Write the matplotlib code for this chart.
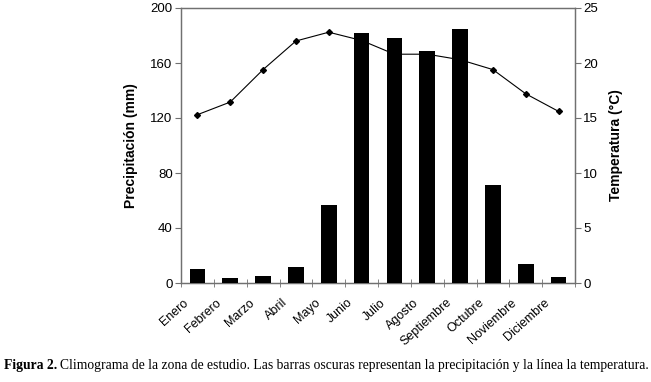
import matplotlib
matplotlib.use('Agg')
import matplotlib.pyplot as plt
import numpy as np

meses = ['Enero', 'Febrero', 'Marzo', 'Abril', 'Mayo', 'Junio', 'Julio',
         'Agosto', 'Septiembre', 'Octubre', 'Noviembre', 'Diciembre']
precipitacion = [10.5, 3.5, 5, 12, 57, 182, 178.5, 168.5, 185, 71, 14, 4.5]
temperatura = [15.3, 16.45, 19.4, 22.0, 22.8, 22.05, 20.8, 20.8, 20.3, 19.4, 17.2, 15.6]

plt.rcParams['font.family'] = ['Liberation Sans', 'DejaVu Sans']
eje_color = '#707070'

fig = plt.figure(figsize=(6.51, 3.82), dpi=100)
ax1 = fig.add_axes([181/651, 1 - 283/382, (575 - 181)/651, (283 - 8)/382])
ax2 = ax1.twinx()

x = np.arange(len(meses))

# Barras de precipitacion (eje izquierdo) por encima de la linea
ax1.bar(x, precipitacion, width=0.48, color='black', zorder=3)
ax1.set_ylim(0, 200)
ax1.set_yticks([0, 40, 80, 120, 160, 200])
ax1.set_xlim(-0.5, len(meses) - 0.5)
ax1.set_ylabel('Precipitación (mm)', fontsize=10, fontweight='bold', labelpad=9)

# Linea de temperatura (eje derecho)
ax2.plot(x, temperatura, color='black', linewidth=0.8, marker='D', markersize=3)
ax2.set_ylim(0, 25)
ax2.set_yticks([0, 5, 10, 15, 20, 25])
ax2.set_ylabel('Temperatura (°C)', fontsize=10, fontweight='bold', labelpad=8)

ax1.set_zorder(ax2.get_zorder() + 1)
ax1.patch.set_visible(False)

# Eje X: etiquetas giradas algo a la izquierda del centro de cada barra
ax1.set_xticks(x - 0.32)
ax1.set_xticklabels(meses, rotation=42, ha='right', va='center',
                    rotation_mode='anchor', fontsize=9)
ax1.set_xticks(np.arange(-0.5, len(meses)), minor=True)
ax1.tick_params(axis='x', which='major', length=0, pad=13)
ax1.tick_params(axis='x', which='minor', length=6, direction='inout', color=eje_color)
ax1.tick_params(axis='y', labelsize=9.5, length=4, color=eje_color, pad=2)
ax2.tick_params(axis='y', labelsize=9.5, length=4, color=eje_color, pad=2)

for ax in (ax1, ax2):
    for s in ax.spines.values():
        s.set_color(eje_color)
        s.set_linewidth(0.9)

# Pie de figura: "Figura 2." en negrita y el resto normal
y_pie = 1 - 366/382
t1 = fig.text(4/651, y_pie, 'Figura 2.', fontsize=9.8, fontweight='bold',
              va='center', family='Liberation Serif')
fig.canvas.draw()
bb = t1.get_window_extent(renderer=fig.canvas.get_renderer())
fig.text((bb.x1 + 3)/651, y_pie,
         'Climograma de la zona de estudio. Las barras oscuras representan la precipitación y la línea la temperatura.',
         fontsize=9.8, va='center', family='Liberation Serif')

fig.savefig('out.png', dpi=100)
